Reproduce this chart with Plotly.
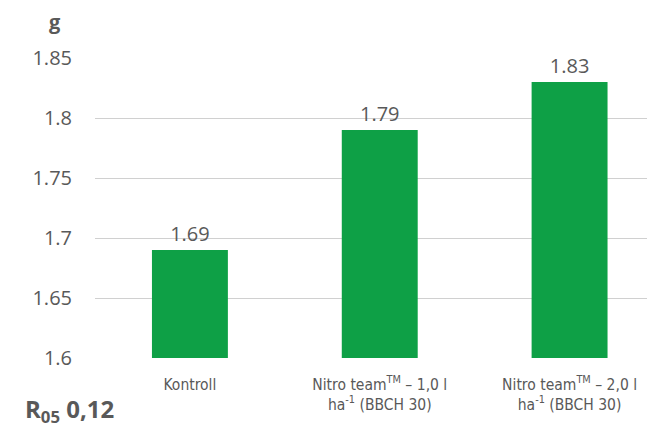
import plotly.graph_objects as go

categories = ["Kontroll",
              "Nitro team<sup>TM</sup> – 1,0 l<br>ha<sup>-1</sup> (BBCH 30)",
              "Nitro team<sup>TM</sup> – 2,0 l<br>ha<sup>-1</sup> (BBCH 30)"]
values = [1.69, 1.79, 1.83]
value_labels = ["1.69", "1.79", "1.83"]
y_ticks = [1.6, 1.65, 1.7, 1.75, 1.8, 1.85]
y_tick_labels = ["1.6", "1.65", "1.7", "1.75", "1.8", "1.85"]

gray = "#595959"
OFF = 8  # page body margin in the browser
W, H = 655 - OFF, 427 - OFF
L, R, T, B = 95 - OFF, 0, 58 - OFF, H - (358 - OFF)

fig = go.Figure(go.Bar(
    x=list(range(len(categories))), y=values,
    marker=dict(color="#0EA046", line=dict(width=0)),
    text=value_labels, textposition="outside", cliponaxis=False,
    textfont=dict(family="Open Sans", size=20, color=gray),
    width=0.4,
))
fig.update_layout(
    width=W, height=H,
    margin=dict(l=L, r=R, t=T, b=B, autoexpand=False),
    plot_bgcolor="white", paper_bgcolor="white",
    showlegend=False,
    xaxis=dict(range=[-0.5, 2.45], tickmode="array", automargin=False,
               tickvals=list(range(len(categories))), ticktext=categories,
               showgrid=False, zeroline=False, showline=False,
               ticks="", ticklabelstandoff=15,
               tickfont=dict(family="DejaVu Sans Condensed", size=15.5, color=gray)),
    yaxis=dict(range=[1.6, 1.85], tickmode="array", tickvals=y_ticks, automargin=False,
               ticktext=y_tick_labels, showgrid=True, gridcolor="#D0D0D0",
               gridwidth=1.2, zeroline=False, showline=False, ticks="",
               ticklabelstandoff=22,
               tickfont=dict(family="Open Sans", size=20, color=gray)),
)
pw, ph = W - L - R, H - T - B
def px2paper(px, py):
    # reference-screen pixels -> paper coords
    return (px - OFF - L) / pw, 1 - (py - OFF - T) / ph

gx, gy = px2paper(55, 22)
rx, ry = px2paper(23, 410)
fig.add_annotation(text="<b>g</b>", x=gx, y=gy, xref="paper", yref="paper",
                   xanchor="center", yanchor="middle",
                   showarrow=False, font=dict(family="Open Sans", size=20, color=gray))
fig.add_annotation(text="<b>R<sub>05</sub> 0,12</b>", x=rx, y=ry, xref="paper", yref="paper",
                   showarrow=False, xanchor="left", yanchor="middle",
                   font=dict(family="Open Sans", size=24, color=gray))
fig.write_html("out.html")
